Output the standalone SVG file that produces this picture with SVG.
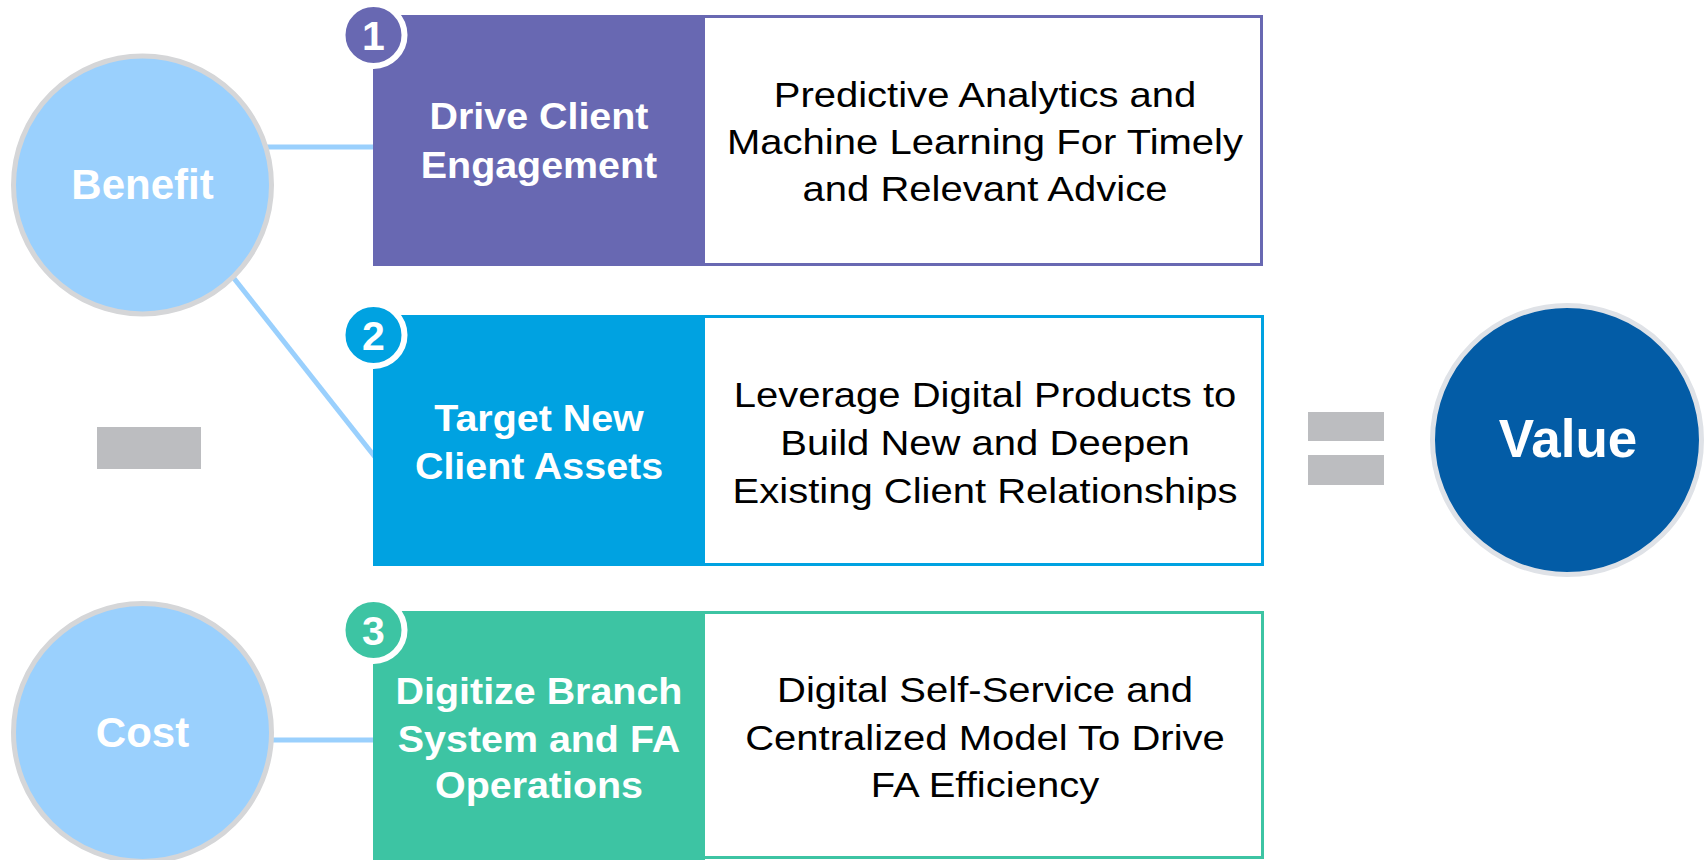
<svg xmlns="http://www.w3.org/2000/svg" width="1704" height="860" viewBox="0 0 1704 860">
  <style>
    .bg { fill: #ffffff; }
    .conn { stroke: #9ad0fd; stroke-width: 5; fill: none; }
    .side { fill: #9ad0fd; stroke: #d5d6d8; stroke-width: 5; }
    .side-label { font-family: "Liberation Sans", Arial, sans-serif; font-weight: bold; font-size: 42px; fill: #ffffff; text-anchor: middle; }
    .op { fill: #bcbdc0; }
    .value { fill: #035ca6; stroke: #dfe2e7; stroke-width: 5; }
    .value-label { font-family: "Liberation Sans", Arial, sans-serif; font-weight: bold; font-size: 53px; fill: #ffffff; text-anchor: middle; }
    .frame { fill: #ffffff; stroke-width: 3; }
    .title { font-family: "Liberation Sans", Arial, sans-serif; font-weight: bold; font-size: 36.5px; fill: #ffffff; text-anchor: middle; }
    .desc { font-family: "Liberation Sans", Arial, sans-serif; font-size: 34.5px; fill: #000000; text-anchor: middle; }
    .badge { stroke: #ffffff; stroke-width: 6; }
    .badge-num { font-family: "Liberation Sans", Arial, sans-serif; font-weight: bold; font-size: 41px; fill: #ffffff; text-anchor: middle; }
    .c1 { fill: #6868b2; } .s1 { stroke: #6868b2; }
    .c2 { fill: #00a2e1; } .s2 { stroke: #00a2e1; }
    .c3 { fill: #3dc4a3; } .s3 { stroke: #3dc4a3; }
  </style>

  <rect class="bg" x="0" y="0" width="1704" height="860"/>

  <!-- links from the benefit / cost circles to the initiatives -->
  <g id="connectors">
    <line class="conn" x1="240" y1="147" x2="375" y2="147"/>
    <line class="conn" x1="225" y1="267" x2="375" y2="457"/>
    <line class="conn" x1="240" y1="740" x2="375" y2="740"/>
  </g>

  <g id="benefit">
    <circle class="side" cx="142.5" cy="185" r="129"/>
    <text class="side-label" x="142.5" y="199">Benefit</text>
  </g>

  <g id="cost">
    <circle class="side" cx="142.5" cy="732.5" r="129"/>
    <text class="side-label" x="142.5" y="747">Cost</text>
  </g>

  <g id="minus">
    <rect class="op" x="97" y="427" width="104" height="42"/>
  </g>

  <g id="equals">
    <rect class="op" x="1308" y="412" width="76" height="29"/>
    <rect class="op" x="1308" y="455" width="76" height="30"/>
  </g>

  <g id="value">
    <circle class="value" cx="1567" cy="440" r="134.5"/>
    <text class="value-label" x="1568" y="457">Value</text>
  </g>

  <!-- initiative 1 -->
  <g id="initiative-1">
    <rect class="frame s1" x="374.5" y="16.5" width="887" height="248"/>
    <rect class="c1" x="373" y="15" width="332" height="251"/>
    <g transform="translate(539 0) scale(1.08 1)">
      <text class="title" x="0" y="129">Drive Client</text>
      <text class="title" x="0" y="178">Engagement</text>
    </g>
    <g transform="translate(985 0) scale(1.16 1)">
      <text class="desc" x="0" y="107">Predictive Analytics and</text>
      <text class="desc" x="0" y="154">Machine Learning For Timely</text>
      <text class="desc" x="0" y="201">and Relevant Advice</text>
    </g>
    <circle class="badge c1" cx="373.5" cy="35" r="31"/>
    <text class="badge-num" x="373.5" y="50">1</text>
  </g>

  <!-- initiative 2 -->
  <g id="initiative-2">
    <rect class="frame s2" x="374.5" y="316.5" width="888" height="248"/>
    <rect class="c2" x="373" y="315" width="332" height="251"/>
    <g transform="translate(539 0) scale(1.08 1)">
      <text class="title" x="0" y="431">Target New</text>
      <text class="title" x="0" y="479">Client Assets</text>
    </g>
    <g transform="translate(985 0) scale(1.16 1)">
      <text class="desc" x="0" y="407">Leverage Digital Products to</text>
      <text class="desc" x="0" y="455">Build New and Deepen</text>
      <text class="desc" x="0" y="503">Existing Client Relationships</text>
    </g>
    <circle class="badge c2" cx="373.5" cy="335" r="31"/>
    <text class="badge-num" x="373.5" y="350">2</text>
  </g>

  <!-- initiative 3 -->
  <g id="initiative-3">
    <rect class="frame s3" x="374.5" y="612.5" width="888" height="245"/>
    <rect class="c3" x="373" y="611" width="332" height="249"/>
    <g transform="translate(539 0) scale(1.08 1)">
      <text class="title" x="0" y="704">Digitize Branch</text>
      <text class="title" x="0" y="752">System and FA</text>
      <text class="title" x="0" y="798">Operations</text>
    </g>
    <g transform="translate(985 0) scale(1.16 1)">
      <text class="desc" x="0" y="702">Digital Self-Service and</text>
      <text class="desc" x="0" y="750">Centralized Model To Drive</text>
      <text class="desc" x="0" y="797">FA Efficiency</text>
    </g>
    <circle class="badge c3" cx="373.5" cy="630" r="31"/>
    <text class="badge-num" x="373.5" y="645">3</text>
  </g>
</svg>
